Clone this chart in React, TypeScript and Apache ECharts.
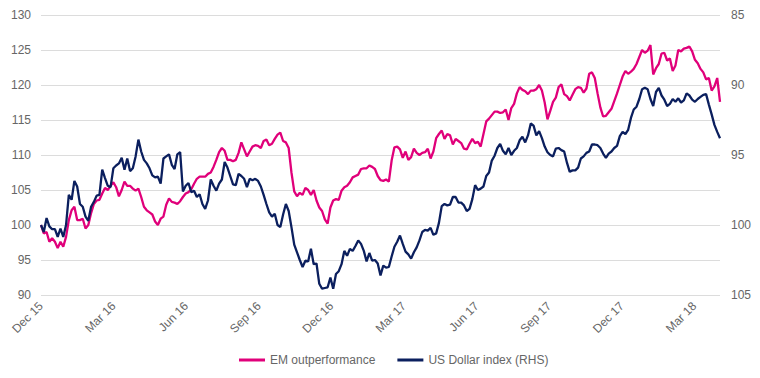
import React, { useEffect, useRef } from "react";
import * as echarts from "echarts";

// Twice-weekly observations, end Dec 2015 – Apr 2018 (index 0 = end Dec 2015)
const quarterLabels = [
  "Dec 15", "Mar 16", "Jun 16", "Sep 16", "Dec 16",
  "Mar 17", "Jun 17", "Sep 17", "Dec 17", "Mar 18",
];

const emOutperformance = [
  100.0, 98.8, 99.0, 97.6, 98.1, 97.6, 96.7, 97.6, 96.9, 98.3,
  100.7, 102.1, 102.6, 100.7, 100.7, 100.9, 99.5, 100.0, 101.7, 103.0,
  103.5, 103.6, 104.5, 105.3, 105.0, 105.6, 106.1, 105.4, 104.1, 105.0,
  106.2, 105.6, 105.6, 105.2, 104.9, 105.2, 104.0, 102.6, 102.1, 101.8,
  101.5, 100.5, 100.0, 100.9, 101.2, 102.9, 103.8, 103.3, 103.2,
  103.0, 103.4, 104.0, 104.5, 104.7, 105.1, 105.9, 106.6, 106.9, 106.9,
  106.9, 107.3, 107.5, 108.3, 109.3, 110.4, 111.0, 110.6, 109.3, 109.3,
  109.1, 109.3, 110.3, 111.8, 110.8, 109.8, 110.5, 111.2, 111.4, 111.3,
  111.0, 112.0, 112.2, 111.4, 111.6, 112.3, 112.9, 113.2, 112.0, 111.8,
  111.0, 107.5, 104.8, 104.1, 104.6, 104.3, 105.3, 105.0,
  104.3, 105.0, 103.5, 102.5, 102.0, 100.8, 100.2, 102.5, 103.5, 103.7,
  103.6, 104.9, 105.4, 105.6, 106.1, 106.8, 107.0, 107.2, 108.0, 108.1,
  108.1, 108.5, 108.3, 108.0, 107.0, 106.4, 106.3, 106.5, 106.2, 109.2,
  111.1, 111.2, 110.8, 109.6, 110.5, 109.3, 109.7, 110.9, 110.3, 110.0,
  110.3, 110.4, 110.9, 109.5, 110.5, 112.4, 113.0, 113.5, 112.3, 113.0,
  112.8, 111.5, 112.3, 112.0, 111.7, 110.9, 110.8, 111.6, 112.3, 111.7,
  111.9, 111.2, 113.0, 114.8, 115.2, 115.7, 116.2, 116.2, 116.0, 116.1,
  116.5, 115.0, 116.7, 117.3, 118.8, 119.7, 119.3, 119.1, 118.7, 119.2,
  119.2, 119.4, 120.0, 119.2, 117.5, 115.1, 116.3, 117.6, 118.2, 119.7,
  120.1, 118.7, 118.4, 117.8, 118.6, 119.4, 119.7, 119.6,
  118.9, 119.5, 121.6, 121.8, 121.0, 118.8, 116.8, 115.5, 115.6, 116.1,
  116.6, 117.7, 118.8, 120.0, 121.2, 122.0, 121.6, 121.9, 122.3, 123.0,
  124.0, 125.0, 124.6, 124.9, 125.7, 121.5, 122.4, 123.0, 124.5, 124.6,
  123.5, 123.8, 122.0, 122.8, 125.0, 124.8, 125.2, 125.3, 125.5, 124.8,
  123.6, 123.1, 122.3, 121.8, 120.8, 121.0, 119.2, 119.8, 121.0, 117.6,
];

const usDollarIndex = [
  100.0, 100.5, 99.5, 100.1, 100.3, 100.3, 100.85, 100.25, 100.85, 100.0,
  97.85, 98.2, 96.85, 97.25, 98.5, 98.7, 99.4, 99.7, 98.7, 98.35,
  97.9, 97.85, 96.05, 96.65, 97.2, 97.3, 95.95, 95.75, 95.6, 95.2,
  96.05, 95.25, 96.15, 95.95, 95.1, 93.9, 94.75, 95.35, 95.6, 95.95,
  96.45, 96.6, 96.55, 97.05, 95.25, 95.1, 94.95, 95.7, 96.0,
  94.95, 94.8, 97.6, 97.2, 97.0, 97.65, 97.55, 98.0, 97.8, 98.5,
  98.85, 98.25, 96.75, 97.2, 97.55, 97.05, 96.75, 95.5, 95.9, 96.5,
  97.1, 97.15, 96.35, 96.5, 96.7, 97.3, 96.7, 96.8, 96.7, 96.85,
  97.25, 97.85, 98.5, 99.1, 99.4, 99.2, 100.0, 100.15, 99.25, 98.5,
  99.0, 100.15, 101.4, 101.95, 102.5, 103.0, 102.55, 102.6,
  101.7, 102.8, 102.75, 104.2, 104.55, 104.5, 104.45, 103.75, 104.55, 103.5,
  103.3, 102.8, 101.85, 102.2, 101.7, 101.85, 101.5, 101.1, 101.35, 101.85,
  102.6, 102.0, 102.55, 102.5, 102.75, 103.6, 102.9, 103.05, 103.0, 102.25,
  101.55, 101.2, 100.75, 101.35, 101.9, 102.1, 102.4, 101.95, 101.6, 101.1,
  100.5, 100.35, 100.4, 100.2, 100.7, 100.6, 99.85, 98.65, 98.5, 98.6,
  98.55, 98.0, 98.0, 98.4, 98.4, 98.6, 99.0, 98.85, 98.15, 97.15,
  97.5, 97.4, 97.25, 96.5, 96.25, 95.4, 95.05, 94.5, 94.2, 94.7,
  94.95, 94.5, 95.0, 94.7, 94.5, 93.95, 93.7, 94.1, 93.6, 92.75,
  92.9, 93.6, 93.3, 93.8, 94.4, 94.8, 95.0, 95.1, 94.55, 94.5,
  94.65, 94.75, 95.55, 96.2, 96.1, 96.1, 95.9, 95.25,
  95.1, 94.85, 94.75, 94.25, 94.25, 94.3, 94.5, 94.9, 95.2, 94.9,
  94.75, 94.5, 94.35, 93.65, 93.35, 93.5, 93.2, 92.35, 91.75, 91.55,
  91.0, 90.3, 90.2, 90.3, 91.0, 91.5, 90.5, 90.2, 90.75, 91.05,
  91.5, 91.35, 91.0, 91.2, 90.95, 91.25, 91.1, 90.6, 90.75, 91.05,
  91.2, 91.0, 90.85, 90.7, 90.65, 91.4, 92.1, 92.85, 93.35, 93.8,
];

// observations per quarter (two per week)
const OBS_PER_QUARTER = 365.25 / 14;

export default function App() {
  const ref = useRef<HTMLDivElement>(null);

  useEffect(() => {
    if (!ref.current) return;
    const chart = echarts.init(ref.current, undefined, { renderer: "svg" });
    const font = "'Liberation Sans', Arial, Helvetica, sans-serif";
    const grey = "#666666";
    chart.setOption({
      animation: false,
      backgroundColor: "#ffffff",
      textStyle: { fontFamily: font },
      grid: { left: 41, right: 40, top: 15, bottom: 83, containLabel: false },
      legend: {
        left: 234,
        top: 349,
        icon: "rect",
        itemWidth: 26,
        itemHeight: 3,
        itemGap: 22,
        data: ["EM outperformance", "US Dollar index (RHS)"],
        textStyle: { fontFamily: font, fontSize: 12, color: grey },
      },
      xAxis: {
        type: "value",
        min: 0,
        max: emOutperformance.length - 1,
        interval: OBS_PER_QUARTER,
        axisLine: { show: false },
        axisTick: { show: false },
        splitLine: { show: false },
        axisLabel: {
          rotate: 45,
          margin: 9,
          fontSize: 12,
          color: grey,
          fontFamily: font,
          showMaxLabel: false,
          formatter: (v: number) => {
            const q = v / OBS_PER_QUARTER;
            const k = Math.round(q);
            if (Math.abs(q - k) > 0.01) return "";
            return quarterLabels[k] ?? "";
          },
        },
      },
      yAxis: [
        {
          type: "value",
          min: 90,
          max: 130,
          interval: 5,
          position: "left",
          axisLine: { show: false },
          axisTick: { show: false },
          axisLabel: { fontSize: 12, color: grey, margin: 10, fontFamily: font },
          splitLine: { lineStyle: { color: "#dcdcdc", width: 1 } },
        },
        {
          type: "value",
          min: 85,
          max: 105,
          interval: 5,
          inverse: true,
          position: "right",
          axisLine: { show: false },
          axisTick: { show: false },
          axisLabel: { fontSize: 12, color: grey, margin: 11, fontFamily: font },
          splitLine: { show: false },
        },
      ],
      series: [
        {
          name: "EM outperformance",
          type: "line",
          yAxisIndex: 0,
          showSymbol: false,
          symbol: "none",
          color: "#e0007a",
          lineStyle: { width: 2.3, color: "#e0007a" },
          data: emOutperformance.map((v, i) => [i, v]),
        },
        {
          name: "US Dollar index (RHS)",
          type: "line",
          yAxisIndex: 1,
          showSymbol: false,
          symbol: "none",
          color: "#0b1f5e",
          lineStyle: { width: 2.3, color: "#0b1f5e" },
          data: usDollarIndex.map((v, i) => [i, v]),
        },
      ],
    });
    return () => chart.dispose();
  }, []);

  return <div ref={ref} style={{ width: 760, height: 378, margin: -8 }} />;
}
